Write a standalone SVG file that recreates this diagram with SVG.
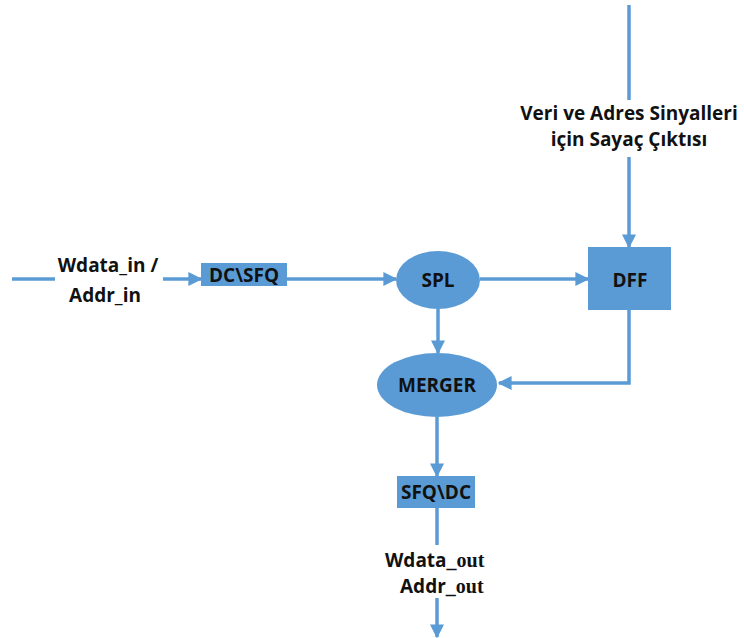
<svg xmlns="http://www.w3.org/2000/svg" width="744" height="638" viewBox="0 0 744 638">
  <style>
    .wire { fill: none; stroke: #5b9bd5; stroke-width: 3.5; }
    .block { fill: #5b9bd5; }
    .lbl { font-family: "Open Sans", "Noto Sans", sans-serif; font-weight: bold; fill: #111; }
    .node { font-size: 19px; }
    .sub { font-family: "Liberation Serif", serif; font-weight: bold; }
  </style>
  <defs>
    <marker id="arrow" viewBox="0 0 10 10" refX="9" refY="5" markerWidth="4" markerHeight="4" markerUnits="strokeWidth" orient="auto">
      <path d="M0,0 L10,5 L0,10 z" fill="#5b9bd5"/>
    </marker>
  </defs>
  <rect width="744" height="638" fill="#ffffff"/>

  <g id="connectors">
    <line class="wire" x1="629" y1="5" x2="629" y2="100"/>
    <line class="wire" x1="629" y1="157" x2="629" y2="247" marker-end="url(#arrow)"/>
    <line class="wire" x1="12" y1="279" x2="55" y2="279"/>
    <line class="wire" x1="163" y1="279" x2="201" y2="279" marker-end="url(#arrow)"/>
    <line class="wire" x1="287" y1="279" x2="396" y2="279" marker-end="url(#arrow)"/>
    <line class="wire" x1="480" y1="279" x2="588" y2="279" marker-end="url(#arrow)"/>
    <line class="wire" x1="438" y1="309" x2="438" y2="353" marker-end="url(#arrow)"/>
    <polyline class="wire" points="629,310 629,383 499,383" marker-end="url(#arrow)"/>
    <line class="wire" x1="437" y1="417" x2="437" y2="476" marker-end="url(#arrow)"/>
    <line class="wire" x1="437" y1="508" x2="437" y2="545"/>
    <line class="wire" x1="437" y1="598" x2="437" y2="637" marker-end="url(#arrow)"/>
  </g>

  <g id="counter-label">
    <text class="lbl" x="629" y="120" font-size="19" text-anchor="middle">Veri ve Adres Sinyalleri</text>
    <text class="lbl" x="629" y="146" font-size="19" text-anchor="middle">için Sayaç Çıktısı</text>
  </g>

  <g id="input-label">
    <text class="lbl" x="108" y="272" font-size="19" text-anchor="middle">Wdata_in /</text>
    <text class="lbl" x="105" y="302" font-size="19" text-anchor="middle">Addr_in</text>
  </g>

  <g id="dc-sfq">
    <rect class="block" x="201" y="263" width="86" height="23"/>
    <text class="lbl node" x="244" y="282" text-anchor="middle">DC\SFQ</text>
  </g>

  <g id="spl">
    <ellipse class="block" cx="438" cy="280" rx="42" ry="29"/>
    <text class="lbl node" x="438" y="287" text-anchor="middle">SPL</text>
  </g>

  <g id="dff">
    <rect class="block" x="588" y="247" width="83" height="63"/>
    <text class="lbl node" x="630" y="287" text-anchor="middle">DFF</text>
  </g>

  <g id="merger">
    <ellipse class="block" cx="437" cy="385" rx="60" ry="32"/>
    <text class="lbl node" x="437" y="392" text-anchor="middle">MERGER</text>
  </g>

  <g id="sfq-dc">
    <rect class="block" x="397" y="476" width="78" height="32"/>
    <text class="lbl node" x="436" y="499" text-anchor="middle">SFQ\DC</text>
  </g>

  <g id="output-label">
    <text class="lbl" x="385" y="567" font-size="19">Wdata<tspan class="sub" font-size="20">_out</tspan></text>
    <text class="lbl" x="400" y="593" font-size="19">Addr<tspan class="sub" font-size="20">_out</tspan></text>
  </g>
</svg>
